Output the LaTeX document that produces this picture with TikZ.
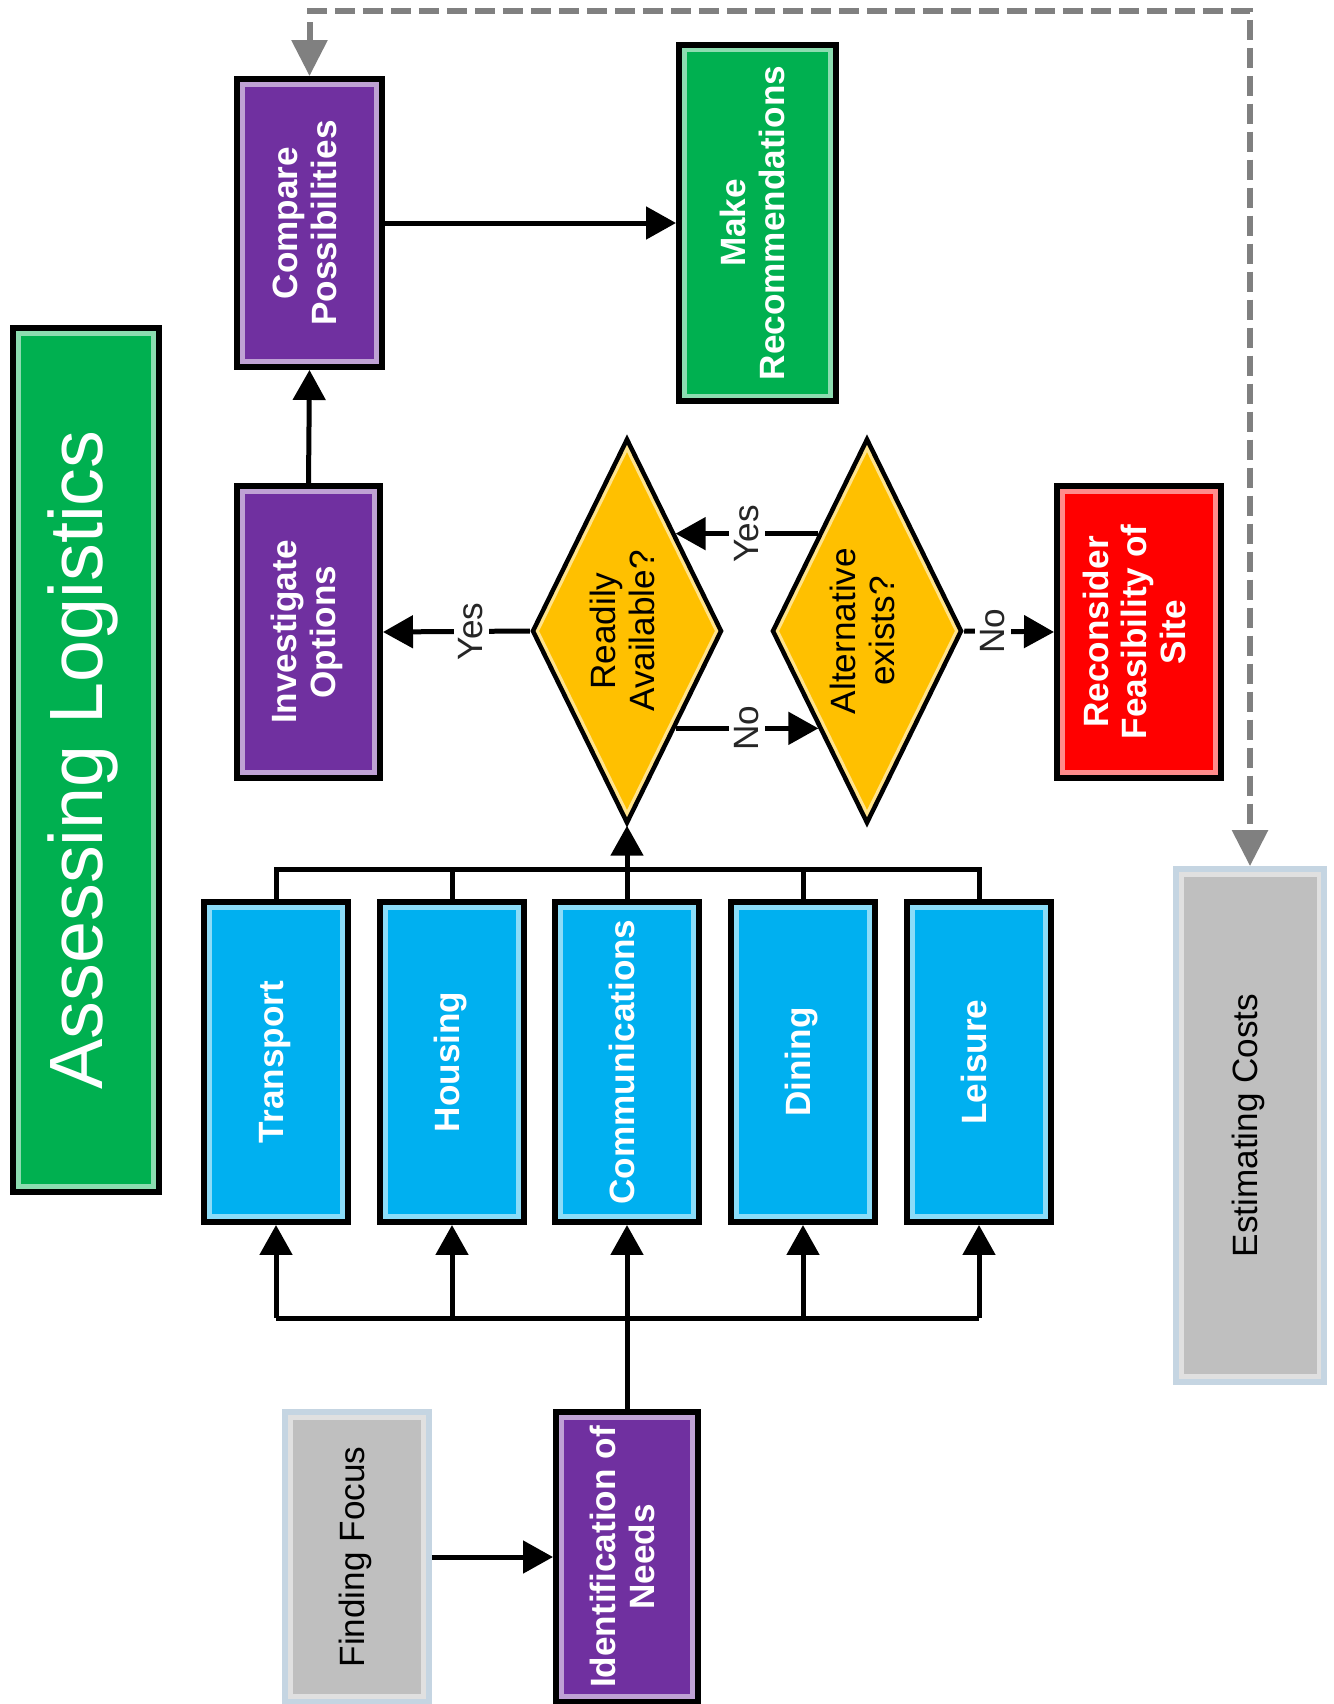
\documentclass[tikz,border=0pt]{standalone}
\usepackage{fontspec}
\setmainfont{Liberation Sans}
\usetikzlibrary{positioning,calc,arrows.meta,shapes.geometric}
\definecolor{purp}{HTML}{7030A0}
\definecolor{grn}{HTML}{00B050}
\definecolor{sky}{HTML}{00B0F0}
\definecolor{amber}{HTML}{FFC000}
\definecolor{greyfill}{HTML}{BFBFBF}
\definecolor{greyedge}{HTML}{C5D5E2}
\definecolor{dashgrey}{HTML}{808080}
\tikzset{font=\fontsize{20}{22}\selectfont}
\newcommand{\vtext}[1]{\rotatebox{90}{\begin{tabular}{@{}c@{}}#1\end{tabular}}}
\tikzset{
	box/.style={rectangle, draw=black, line width=0.12cm, fill=#1, text=white, inner sep=0pt,
		font=\bfseries\fontsize{20}{22}\selectfont,
		path picture={\draw[line width=0.3cm, #1!45!white] (path picture bounding box.south west) rectangle (path picture bounding box.north east);}},
	greybox/.style={rectangle, draw=greyedge, line width=0.12cm, fill=greyfill, text=black, inner sep=0pt,
		path picture={\draw[line width=0.3cm, white!88!black] (path picture bounding box.south west) rectangle (path picture bounding box.north east);}},
	decision/.style={diamond, aspect=0.5, draw=black, line width=0.09cm, fill=amber, inner sep=0pt,
		minimum width=3.8cm, minimum height=7.7cm,
		path picture={\draw[line width=0.22cm, amber!45!white] (path picture bounding box.north) -- (path picture bounding box.east) -- (path picture bounding box.south) -- (path picture bounding box.west) -- cycle;}},
	wire/.style={line width=0.1cm},
	arr/.style={line width=0.1cm, -{Triangle[length=0.6cm, width=0.64cm]}},
	dasharr/.style={line width=0.12cm, dashgrey, dash pattern=on 0.4cm off 0.16cm,
		{Triangle[length=0.72cm, width=0.7cm]}-{Triangle[length=0.72cm, width=0.7cm]}},
	lbl/.style={fill=white, inner sep=3pt, rotate=90, text=black!85, font=\fontsize{20}{22}\selectfont}
}

\begin{document}
\begin{tikzpicture}[x=0.02cm, y=-0.02cm]
	\useasboundingbox[fill=white] (0,0) rectangle (1334,1704);

	\node[box=grn, minimum width=2.92cm, minimum height=17.28cm, font=\fontsize{43}{48}\selectfont] (title) at (86,760) {\vtext{Assessing Logistics}};

	\node[box=purp, minimum width=2.9cm, minimum height=5.76cm] (compare) at (309.5,223) {\vtext{Compare\\Possibilities}};
	\node[box=grn, minimum width=3.14cm, minimum height=7.14cm] (recom) at (757.5,223) {\vtext{Make\\Recommendations}};
	\node[box=purp, minimum width=2.86cm, minimum height=5.84cm] (invest) at (308.5,632) {\vtext{Investigate\\Options}};
	\node[decision] (ready) at (627,631) {\vtext{Readily\\Available?}};
	\node[decision] (altern) at (867,631) {\vtext{Alternative\\exists?}};
	\node[box=red, minimum width=3.28cm, minimum height=5.84cm] (recon) at (1139,632) {\vtext{Reconsider\\Feasibility of\\Site}};

	\foreach \nm/\txt/\xx in {trans/Transport/276, hous/Housing/452, comm/Communications/627, dine/Dining/803, leis/Leisure/979}
		\node[box=sky, minimum width=2.88cm, minimum height=6.4cm] (\nm) at (\xx,1062) {\vtext{\txt}};

	\node[greybox, minimum width=2.96cm, minimum height=10.26cm] (estim) at (1250,1125.5) {\vtext{Estimating Costs}};
	\node[greybox, minimum width=2.88cm, minimum height=5.8cm] (focus) at (357,1557) {\vtext{Finding Focus}};
	\node[box=purp, minimum width=2.84cm, minimum height=5.8cm] (ident) at (627,1557) {\vtext{Identification of\\Needs}};

	\coordinate (bust) at (0,869);
	\coordinate (busb) at (0,1318);
	\coordinate (rail) at (0,11);

	\draw[arr] (focus) -- (ident);
	\draw[wire] (ident.north) -- (ident.north |- busb);
	\draw[wire] (trans.south |- busb) -- (leis.south |- busb);
	\foreach \nm in {trans,hous,comm,dine,leis}
		\draw[arr] (\nm.south |- busb) -- (\nm.south);

	\draw[wire] (trans.north) -- (trans.north |- bust) -- (leis.north |- bust) -- (leis.north);
	\foreach \nm in {hous,dine}
		\draw[wire] (\nm.north) -- (\nm.north |- bust);
	\draw[arr] (comm.north) -- (ready.south);

	\draw[arr] (ready.west) -- node[lbl, pos=0.4] {Yes} (invest.east);
	\draw[arr] (ready.south east) -- node[lbl] {No} (altern.south west);
	\draw[arr] (altern.north west) -- node[lbl] {Yes} (ready.north east);
	\draw[arr] (altern.east) -- node[lbl, pos=0.32] {No} (recon.west);
	\draw[arr] (invest.north) -- (compare.south);
	\draw[arr] (compare.east) -- (recom.west);

	\draw[dasharr] (compare.north) -- (compare.north |- rail) -- (estim.north |- rail) -- (estim.north);
\end{tikzpicture}
\end{document}
